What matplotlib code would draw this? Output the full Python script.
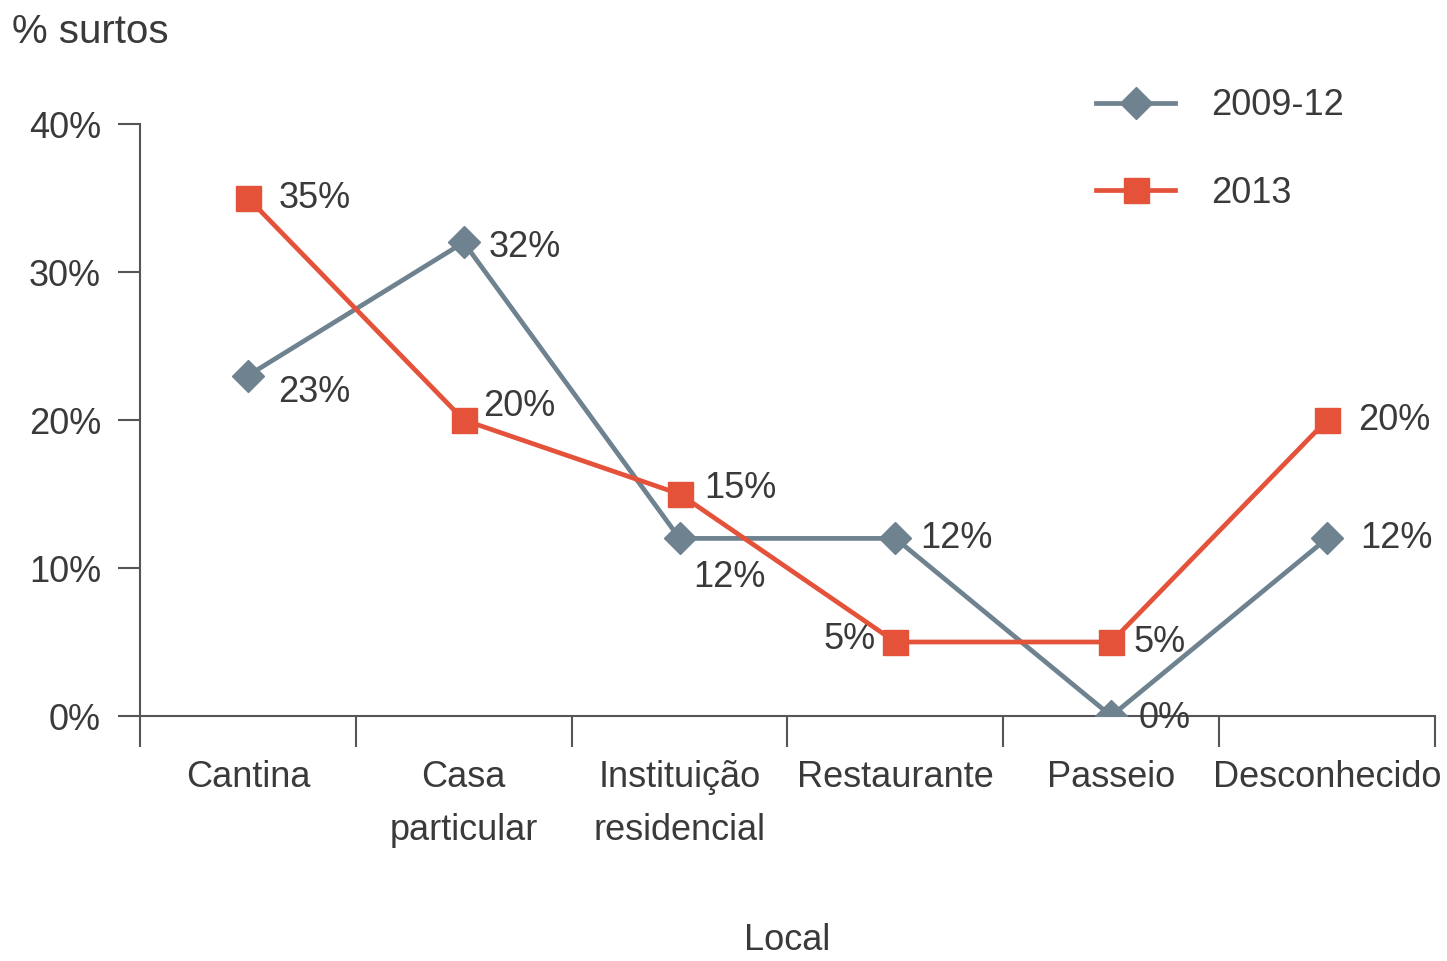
import matplotlib
matplotlib.use("Agg")
import matplotlib.pyplot as plt

categories = ["Cantina", "Casa\nparticular", "Instituição\nresidencial", "Restaurante", "Passeio", "Desconhecido"]
series_2009_12 = [23, 32, 12, 12, 0, 12]
series_2013 = [35, 20, 15, 5, 5, 20]
yticks = [0, 10, 20, 30, 40]

GRAY = "#6e8290"
RED = "#e5523a"
TXT = "#3a3a3a"
AX = "#555555"

plt.rcParams['font.family'] = ['Liberation Sans Narrow', 'Liberation Sans', 'DejaVu Sans']
FS = 26

fig = plt.figure(figsize=(14.47, 9.61), dpi=100)
ax = fig.add_axes([140/1447, 1-716/961, (1435-140)/1447, (716-124)/961])

x = list(range(len(categories)))
ax.plot(x, series_2009_12, color=GRAY, lw=3.4, marker="D", markersize=16, label="2009-12", zorder=3)
ax.plot(x, series_2013, color=RED, lw=3.4, marker="s", markersize=18, label="2013", zorder=4)

ax.set_xlim(-0.5, len(categories) - 0.5)
ax.set_ylim(0, 40)

# offsets for labels (points)
off09 = [(22, -12, "left"), (18, -4, "left"), (10, -28, "left"), (18, 0, "left"), (20, -2, "left"), (24, 0, "left")]
off13 = [(22, 0, "left"), (14, 10, "left"), (18, 4, "left"), (-14, 2, "right"), (16, 0, "left"), (22, 0, "left")]
for i, v in enumerate(series_2009_12):
    dx, dy, ha = off09[i]
    ax.annotate(f"{v}%", (i, v), xytext=(dx, dy), textcoords="offset points", ha=ha, va="center",
                fontsize=FS, color=TXT)
for i, v in enumerate(series_2013):
    dx, dy, ha = off13[i]
    ax.annotate(f"{v}%", (i, v), xytext=(dx, dy), textcoords="offset points", ha=ha, va="center",
                fontsize=FS, color=TXT)

ax.set_yticks(yticks)
ax.set_yticklabels([f"{t}%" for t in yticks], fontsize=FS, color=TXT)
ax.set_xticks([i - 0.5 for i in range(len(categories) + 1)])
ax.set_xticklabels([])
ax.set_xticks(x, minor=True)
ax.set_xticklabels(categories, minor=True, fontsize=FS, color=TXT, linespacing=1.65)
ax.tick_params(axis="x", which="minor", length=0, pad=32)
ax.tick_params(axis="x", which="major", length=22, width=1.5, color=AX, direction="out")
ax.tick_params(axis="y", length=16, width=1.5, color=AX, pad=12)

for s in ["top", "right"]:
    ax.spines[s].set_visible(False)
for s in ["left", "bottom"]:
    ax.spines[s].set_color(AX)
    ax.spines[s].set_linewidth(1.5)

ax.set_xlabel("Local", fontsize=FS, color=TXT, labelpad=54)
fig.text(12/1447, 1-32/961, "% surtos", fontsize=29, color=TXT, ha="left", va="center")

leg = ax.legend(loc="upper right", bbox_to_anchor=(0.955, 1.115), frameon=False, fontsize=FS,
                handlelength=2.2, labelspacing=1.45, handletextpad=1.0, labelcolor=TXT)

fig.savefig("out.png", dpi=100)
